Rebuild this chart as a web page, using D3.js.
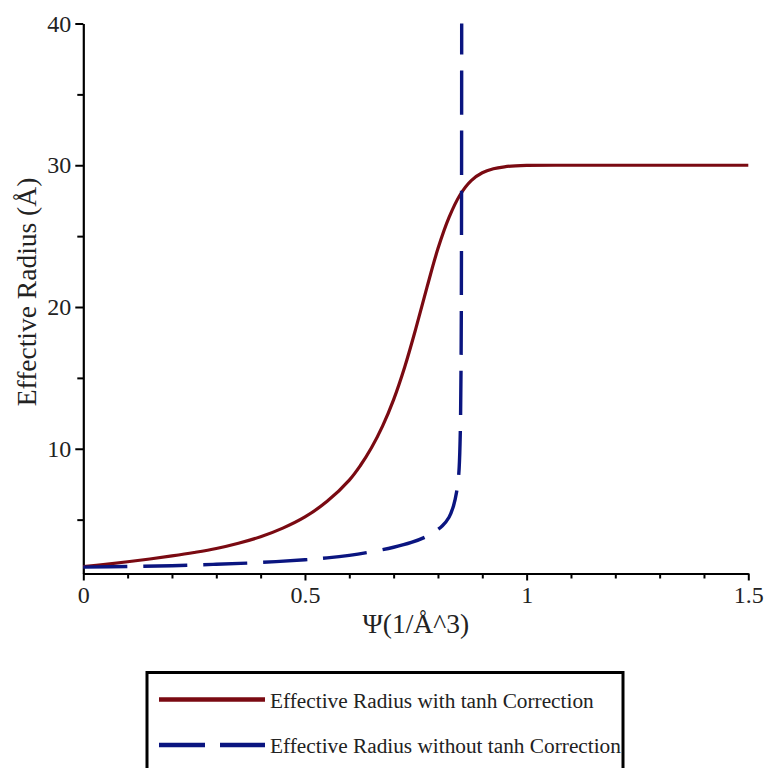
<!DOCTYPE html>
<html>
<head>
<meta charset="utf-8">
<script src="https://cdn.jsdelivr.net/npm/d3@7"></script>
<style>
  html, body { margin: 0; padding: 0; background: #fff; }
  svg { display: block; }
  text { font-family: "Liberation Serif", "Times New Roman", serif; fill: #222; }
</style>
</head>
<body>
<script>
// Effective radius vs. Psi, with and without the tanh correction
const tanhPsi    = [0, 0.05, 0.1, 0.15, 0.2, 0.25, 0.3, 0.35, 0.4, 0.45, 0.5, 0.55, 0.6, 0.625, 0.65, 0.675, 0.7, 0.725, 0.75, 0.775, 0.8, 0.825, 0.85, 0.875, 0.9, 0.925, 0.95, 0.975, 1.0, 1.1, 1.2, 1.3, 1.4, 1.5];
const tanhRadius = [1.68, 1.85, 2.03, 2.225, 2.44, 2.68, 2.96, 3.33, 3.79, 4.4, 5.19, 6.29, 7.79, 8.82, 10.07, 11.6, 13.47, 15.77, 18.47, 21.37, 24.12, 26.32, 27.92, 28.92, 29.47, 29.75, 29.89, 29.96, 29.99, 30.0, 30.0, 30.0, 30.0, 30.0];

const plainPsi    = [0, 0.1, 0.2, 0.3, 0.4, 0.5, 0.55, 0.6, 0.65, 0.7, 0.74, 0.77, 0.79, 0.81, 0.825, 0.835, 0.842, 0.847, 0.85, 0.852, 0.853, 0.8535];
const plainRadius = [1.65, 1.69, 1.75, 1.85, 1.98, 2.17, 2.3, 2.48, 2.73, 3.05, 3.39, 3.75, 4.09, 4.57, 5.17, 5.97, 6.95, 8.25, 10.65, 15.6, 23.7, 40.0];

const xMajor = [0, 0.5, 1, 1.5];
const xMajorLabels = ["0", "0.5", "1", "1.5"];
const xMinor = [0.1, 0.2, 0.3, 0.4, 0.6, 0.7, 0.8, 0.9, 1.1, 1.2, 1.3, 1.4];
const yMajor = [10, 20, 30, 40];
const yMinor = [5, 15, 25, 35];

const seriesNames = ["Effective Radius with tanh Correction", "Effective Radius without tanh Correction"];
const seriesColors = ["#7a0a12", "#0a1580"];

const W = 766, H = 768;
const plotLeft = 83.3, plotRight = 748.3, plotTop = 23.5, plotBottom = 573.5;

const svg = d3.select("body").append("svg").attr("width", W).attr("height", H);

const x = d3.scaleLinear().domain([0, 1.5]).range([plotLeft, plotRight]);
const y = d3.scaleLinear().domain([1.2, 40]).range([plotBottom, plotTop]);

// minor ticks
svg.append("g").attr("transform", `translate(0,${plotBottom})`)
  .call(d3.axisBottom(x).tickValues(xMinor).tickSize(5).tickFormat(""))
  .call(g => g.select(".domain").remove())
  .selectAll("line").attr("stroke", "#000").attr("stroke-width", 2);
svg.append("g").attr("transform", `translate(${plotLeft},0)`)
  .call(d3.axisLeft(y).tickValues(yMinor).tickSize(6).tickFormat(""))
  .call(g => g.select(".domain").remove())
  .selectAll("line").attr("stroke", "#000").attr("stroke-width", 2);

// major axes
const xAxis = svg.append("g").attr("transform", `translate(0,${plotBottom})`)
  .call(d3.axisBottom(x).tickValues(xMajor).tickSize(7).tickSizeOuter(0).tickPadding(5)
    .tickFormat((d, i) => xMajorLabels[i]));
const yAxis = svg.append("g").attr("transform", `translate(${plotLeft},0)`)
  .call(d3.axisLeft(y).tickValues(yMajor).tickSize(8).tickSizeOuter(0).tickPadding(4));

[xAxis, yAxis].forEach(g => {
  g.select(".domain").attr("stroke", "#000").attr("stroke-width", 2.2);
  g.selectAll(".tick line").attr("stroke", "#000").attr("stroke-width", 2);
  g.selectAll(".tick text").style("font-family", "Liberation Serif, serif")
    .style("font-size", "24px").attr("fill", "#222");
});

// axis titles
svg.append("text").attr("x", (plotLeft + plotRight) / 2).attr("y", 633)
  .attr("text-anchor", "middle").style("font-size", "27.5px").text("Ψ(1/Å^3)");
svg.append("text").attr("transform", `translate(36,292) rotate(-90)`)
  .attr("text-anchor", "middle").style("font-size", "27.5px").text("Effective Radius (Å)");

// curves
const line = d3.line().x(d => x(d[0])).y(d => y(d[1])).curve(d3.curveCatmullRom.alpha(0.5));
const tanhData = tanhPsi.map((p, i) => [p, tanhRadius[i]]);
const plainData = plainPsi.map((p, i) => [p, plainRadius[i]]);

svg.append("path").datum(tanhData).attr("d", line)
  .attr("fill", "none").attr("stroke", seriesColors[0]).attr("stroke-width", 3.2);
svg.append("path").datum(plainData).attr("d", line)
  .attr("fill", "none").attr("stroke", seriesColors[1]).attr("stroke-width", 3.4)
  .attr("stroke-dasharray", "44,16");

// legend
const lg = svg.append("g");
lg.append("rect").attr("x", 147).attr("y", 672.5).attr("width", 476).attr("height", 130)
  .attr("fill", "none").attr("stroke", "#000").attr("stroke-width", 3);
const rows = [699.5, 745];
seriesNames.forEach((name, i) => {
  lg.append("line").attr("x1", 159).attr("x2", 265).attr("y1", rows[i]).attr("y2", rows[i])
    .attr("stroke", seriesColors[i]).attr("stroke-width", 4.5)
    .attr("stroke-dasharray", i === 1 ? "46,15" : null);
  lg.append("text").attr("x", 270).attr("y", rows[i] + 8).style("font-size", "21.3px")
    .attr("fill", "#333").text(name);
});
</script>
</body>
</html>
